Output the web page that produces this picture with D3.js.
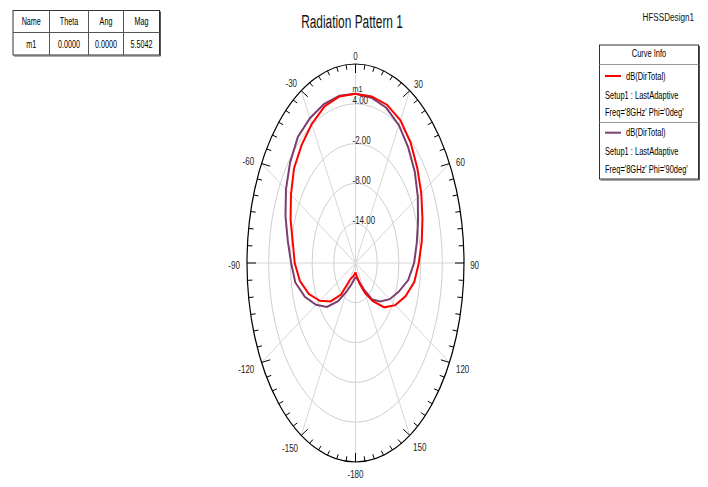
<!DOCTYPE html>
<html>
<head>
<meta charset="utf-8">
<script src="https://cdn.jsdelivr.net/npm/d3@7"></script>
<style>
  html, body { margin: 0; padding: 0; background: #fff; }
  svg { display: block; font-family: "Liberation Sans", Arial, sans-serif; }
</style>
</head>
<body>
<svg id="chart" width="708" height="487"></svg>
<script>
// Theta samples (deg) and directivity (dB) for the two phi cuts
const thetaDeg = [-180,-170,-160,-150,-140,-130,-120,-110,-100,-90,-80,-70,-60,-50,-40,-30,-20,-10,
                  0,10,20,30,40,50,60,70,80,90,100,110,120,130,140,150,160,170,180];
const phi0dB = [-18.6,-18.2,-17.8,-17.2,-13.8,-11.0,-8.6,-6.3,-4.4,-3.2,-2.4,-0.9,0.6,2.2,3.2,4.2,5.1,5.5,
                5.5042,5.5,5.4,4.85,3.7,2.3,1.0,-0.3,-1.4,-2.5,-3.5,-5.3,-7.3,-9.6,-12.5,-14.8,-16.7,-18.0,-18.6];
const phi90dB = [-17.9,-17.4,-16.5,-15.0,-12.5,-9.7,-7.4,-5.1,-3.1,-2.2,-1.0,0.6,2.2,3.6,4.8,5.2,5.5,5.6,
                 5.5042,5.3,4.9,4.0,2.7,1.4,-0.1,-1.6,-2.8,-3.8,-5.2,-7.3,-9.1,-11.0,-12.8,-15.4,-17.0,-17.6,-17.9];

const seriesNames = ["dB(DirTotal)", "dB(DirTotal)"];
const seriesSetup = ["Setup1 : LastAdaptive", "Setup1 : LastAdaptive"];
const seriesFreq = ["Freq='8GHz' Phi='0deg'", "Freq='8GHz' Phi='90deg'"];
const seriesColors = ["#ff0000", "#7b3f6e"];

const ringValues = [-14, -8, -2, 4];
const ringLabels = ["-14.00", "-8.00", "-2.00", "4.00"];
const radialDomain = [-20, 10];
const angleTicks = [0, 30, 60, 90, 120, 150, 180, -150, -120, -90, -60, -30];
const angleLabels = ["0", "30", "60", "90", "120", "150", "-180", "-150", "-120", "-90", "-60", "-30"];

const tableHeader = ["Name", "Theta", "Ang", "Mag"];
const tableRow = ["m1", "0.0000", "0.0000", "5.5042"];
const markerName = "m1";
const markerTheta = 0;
const markerValue = 5.5042;

const svg = d3.select("#chart");
const cx = 355.5, cy = 263, rx = 108.5, ry = 199;

// radial scale: dB -> fraction of the outer ellipse
const rScale = d3.scaleLinear().domain(radialDomain).range([0, 1]);
const rad = d => d * Math.PI / 180;
const px = (t, v) => cx + rx * rScale(v) * Math.sin(rad(t));
const py = (t, v) => cy - ry * rScale(v) * Math.cos(rad(t));

function addText(parent, x, y, str, size, sx, anchor, fill) {
  return parent.append("text")
    .attr("transform", `translate(${x},${y}) scale(${sx},1)`)
    .attr("text-anchor", anchor || "start")
    .attr("font-size", size)
    .attr("fill", fill || "#000")
    .text(str);
}

// grid rings
const grid = svg.append("g");
ringValues.forEach(v => {
  grid.append("ellipse")
    .attr("cx", cx).attr("cy", cy)
    .attr("rx", rx * rScale(v)).attr("ry", ry * rScale(v))
    .attr("fill", "none").attr("stroke", "#cfcfcf").attr("stroke-width", 1);
});
// spokes
angleTicks.forEach(t => {
  grid.append("line")
    .attr("x1", cx).attr("y1", cy)
    .attr("x2", px(t, radialDomain[1])).attr("y2", py(t, radialDomain[1]))
    .attr("stroke", "#d6d6d6").attr("stroke-width", 1);
});

// outer ellipse and ticks
svg.append("ellipse")
  .attr("cx", cx).attr("cy", cy).attr("rx", rx).attr("ry", ry)
  .attr("fill", "none").attr("stroke", "#000").attr("stroke-width", 1.2);
const tickAngles = d3.range(-175, 185, 5);
tickAngles.forEach(t => {
  const major = t % 30 === 0;
  const len = major ? 9 : 5;
  const a = rad(t);
  const x1 = cx + rx * Math.sin(a), y1 = cy - ry * Math.cos(a);
  // inward along the ellipse normal
  let nx = Math.sin(a) / rx, ny = -Math.cos(a) / ry;
  const nl = Math.hypot(nx, ny); nx /= nl; ny /= nl;
  svg.append("line")
    .attr("x1", x1).attr("y1", y1)
    .attr("x2", x1 - nx * len).attr("y2", y1 - ny * len)
    .attr("stroke", "#000").attr("stroke-width", 1);
});

// ring labels
ringValues.forEach((v, i) => {
  addText(svg, 352.5, cy - ry * rScale(v) + 0.5, ringLabels[i], 10, 0.8, "start", "#222");
});

// angle labels outside the ellipse
angleTicks.forEach((t, i) => {
  const a = rad(t);
  const x1 = cx + rx * Math.sin(a), y1 = cy - ry * Math.cos(a);
  let nx = Math.sin(a) / rx, ny = -Math.cos(a) / ry;
  const nl = Math.hypot(nx, ny); nx /= nl; ny /= nl;
  const hw = angleLabels[i].length * 2.3, hh = 4;
  const off = 6 + Math.abs(nx) * hw + Math.abs(ny) * hh;
  addText(svg, x1 + nx * off, y1 + ny * off + 6, angleLabels[i], 10, 0.8, "middle", "#222");
});

// traces
const line = d3.line()
  .x(d => px(d[0], d[1]))
  .y(d => py(d[0], d[1]));
[phi0dB, phi90dB].forEach((vals, k) => {
  const pts = thetaDeg.map((t, i) => [t, vals[i]]);
  svg.append("path")
    .attr("class", "trace")
    .attr("d", line(pts))
    .attr("fill", "none")
    .attr("stroke", seriesColors[k])
    .attr("stroke-width", 2)
    .attr("stroke-linejoin", "miter");
});
// purple cut sits beneath the red cut
svg.selectAll("path.trace").filter((d, i) => i === 1).lower();
grid.lower();

// marker label
addText(svg, px(markerTheta, markerValue) - 3, py(markerTheta, markerValue) - 1.5, markerName, 9, 0.8, "start", "#222");

// title
addText(svg, 352, 28, "Radiation Pattern 1", 18, 0.66, "middle", "#111");
addText(svg, 694, 21, "HFSSDesign1", 11, 0.74, "end", "#111");

// marker table
const tbl = svg.append("g");
const colX = [13, 49.5, 88.5, 123.5, 159.5];
const rowY = [10.5, 32.5, 55];
tbl.append("rect").attr("x", colX[0]).attr("y", rowY[0])
  .attr("width", colX[4] - colX[0]).attr("height", rowY[2] - rowY[0])
  .attr("fill", "#fff").attr("stroke", "#333").attr("stroke-width", 1);
tbl.append("path")
  .attr("d", `M${colX[0] + 1},${rowY[2] + 1}H${colX[4] + 1}V${rowY[0] + 1}`)
  .attr("fill", "none").attr("stroke", "#555").attr("stroke-width", 1);
colX.slice(1, 4).forEach(x => tbl.append("line").attr("x1", x).attr("x2", x)
  .attr("y1", rowY[0]).attr("y2", rowY[2]).attr("stroke", "#555"));
tbl.append("line").attr("x1", colX[0]).attr("x2", colX[4])
  .attr("y1", rowY[1]).attr("y2", rowY[1]).attr("stroke", "#555");
tableHeader.forEach((s, i) => addText(tbl, (colX[i] + colX[i + 1]) / 2, 25, s, 10, 0.72, "middle"));
tableRow.forEach((s, i) => addText(tbl, (colX[i] + colX[i + 1]) / 2, 47.5, s, 10, 0.72, "middle"));

// legend
const lg = svg.append("g");
const lx0 = 599.5, lx1 = 698.5, ly0 = 45, ly1 = 179;
lg.append("rect").attr("x", lx0).attr("y", ly0)
  .attr("width", lx1 - lx0).attr("height", ly1 - ly0)
  .attr("fill", "#fff").attr("stroke", "#333").attr("stroke-width", 1);
lg.append("path")
  .attr("d", `M${lx0 + 1},${ly1 + 1}H${lx1 + 1}V${ly0 + 1}`)
  .attr("fill", "none").attr("stroke", "#555").attr("stroke-width", 1);
addText(lg, (lx0 + lx1) / 2, 57, "Curve Info", 10, 0.75, "middle");
[64.5, 122.5].forEach(y => lg.append("line").attr("x1", lx0).attr("x2", lx1)
  .attr("y1", y).attr("y2", y).attr("stroke", "#999"));
[76, 132.7].forEach((y, k) => {
  lg.append("line").attr("x1", 605).attr("x2", 621).attr("y1", y).attr("y2", y)
    .attr("stroke", seriesColors[k]).attr("stroke-width", 2);
  addText(lg, 626, y + 3.5, seriesNames[k], 10, 0.75, "start");
  addText(lg, 605, y + 22.5, seriesSetup[k], 10, 0.75, "start");
  addText(lg, 605, y + 40, seriesFreq[k], 10, 0.75, "start");
});
</script>
</body>
</html>
